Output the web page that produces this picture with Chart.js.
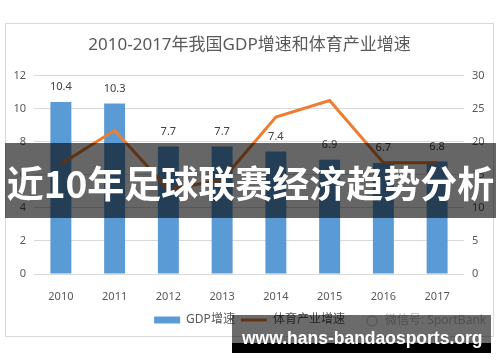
<!DOCTYPE html>
<html lang="zh">
<head>
<meta charset="utf-8">
<title>2010-2017年我国GDP增速和体育产业增速</title>
<script src="https://cdn.jsdelivr.net/npm/chart.js@4.4.0/dist/chart.umd.min.js"></script>
<style>
    html, body { margin: 0; padding: 0; background: #fff; }
    .wrap { position: relative; width: 500px; height: 362px; overflow: hidden; }
    #growthChart { position: absolute; left: 0; top: 0; }
    .banner {
        position: absolute; left: 5px; top: 143px; width: 491px; height: 75px;
        background: rgba(0, 0, 0, 0.6); color: #fff;
        font: 700 37px "Noto Sans CJK SC", sans-serif; line-height: 78px;
        text-align: center; white-space: nowrap; overflow: hidden;
    }
    .mark {
        position: absolute; left: 232px; top: 315px; width: 259px; height: 38px;
        background: linear-gradient(to bottom, rgba(0,0,0,0.58) 0, rgba(0,0,0,0.58) 28px, #000 28px);
    }
    .mark span {
        position: absolute; left: 10px; top: 13px; color: #fff;
        font: 700 17.5px "Liberation Sans", sans-serif; line-height: 20px; white-space: nowrap;
    }
</style>
</head>
<body>
<div class="wrap">
    <canvas id="growthChart" width="500" height="362"></canvas>
    <div class="banner">近10年足球联赛经济趋势分析</div>
    <div class="mark"><span>www.hans-bandaosports.org</span></div>
</div>
<script>
// Datos
const years = ['2010', '2011', '2012', '2013', '2014', '2015', '2016', '2017'];
const gdpGrowth = [10.4, 10.3, 7.7, 7.7, 7.4, 6.9, 6.7, 6.8];
const sportsGrowth = [16.6, 21.7, 12.8, 14.2, 23.7, 26.2, 16.8, 16.8];
const gdpTicks = [0, 2, 4, 6, 8, 10, 12];
const sportsTicks = [0, 5, 10, 15, 20, 25, 30];

const BLUE = '#5B9BD5';
const ORANGE = '#ED7D31';
const GREY_TEXT = '#595959';
const FONT = '"Noto Sans", "Noto Sans CJK SC", sans-serif';

// Fondo blanco y marco gris alrededor del gráfico
const framePlugin = {
    id: 'frame',
    beforeDraw(chart) {
        const ctx = chart.ctx;
        ctx.save();
        ctx.fillStyle = '#fff';
        ctx.fillRect(0, 0, chart.width, chart.height);
        ctx.strokeStyle = '#D9D9D9';
        ctx.lineWidth = 1;
        ctx.strokeRect(5.5, 23.5, 488, 313);
        ctx.restore();
    }
};

// Etiquetas de valor encima de cada barra
const barLabelsPlugin = {
    id: 'barLabels',
    afterDatasetsDraw(chart) {
        const ctx = chart.ctx;
        const meta = chart.getDatasetMeta(0);
        ctx.save();
        ctx.font = '11px ' + FONT;
        ctx.fillStyle = '#404040';
        ctx.textAlign = 'center';
        ctx.textBaseline = 'middle';
        meta.data.forEach((bar, i) => {
            ctx.fillText(gdpGrowth[i].toFixed(1), bar.x, bar.y - 15);
        });
        ctx.restore();
    }
};

// Texto extra de la leyenda original
const footnotePlugin = {
    id: 'footnote',
    afterDraw(chart) {
        const ctx = chart.ctx;
        const y = chart.legend.legendHitBoxes[0].top + 7;
        ctx.save();
        ctx.strokeStyle = '#BFBFBF';
        ctx.lineWidth = 1;
        ctx.beginPath();
        ctx.arc(372, y, 5, 0, Math.PI * 2);
        ctx.stroke();
        ctx.font = '12px ' + FONT;
        ctx.fillStyle = '#BFBFBF';
        ctx.textBaseline = 'middle';
        ctx.fillText('微信号: SportBank', 385, y);
        ctx.restore();
    }
};

new Chart(document.getElementById('growthChart'), {
    data: {
        labels: years,
        datasets: [
            {
                type: 'bar',
                label: 'GDP增速',
                data: gdpGrowth,
                backgroundColor: BLUE,
                yAxisID: 'y',
                barPercentage: 0.39,
                categoryPercentage: 1,
                order: 2
            },
            {
                type: 'line',
                label: '体育产业增速',
                data: sportsGrowth,
                borderColor: ORANGE,
                borderWidth: 3,
                pointRadius: 0,
                tension: 0,
                yAxisID: 'y1',
                order: 1
            }
        ]
    },
    options: {
        responsive: false,
        animation: false,
        layout: { padding: { top: 24, left: 5, right: 6, bottom: 26 } },
        plugins: {
            title: {
                display: true,
                text: '2010-2017年我国GDP增速和体育产业增速',
                color: GREY_TEXT,
                font: { family: FONT, size: 17, weight: 'normal' },
                padding: { top: 11, bottom: 20 }
            },
            legend: {
                position: 'bottom',
                labels: {
                    usePointStyle: true,
                    pointStyleWidth: 26,
                    boxHeight: 7,
                    padding: 6,
                    color: GREY_TEXT,
                    font: { family: FONT, size: 12 },
                    generateLabels: () => [
                        { text: 'GDP增速', fillStyle: BLUE, strokeStyle: BLUE, lineWidth: 0, pointStyle: 'rect', datasetIndex: 0, fontColor: GREY_TEXT },
                        { text: '体育产业增速', fillStyle: ORANGE, strokeStyle: ORANGE, lineWidth: 3, pointStyle: 'line', datasetIndex: 1, fontColor: GREY_TEXT }
                    ]
                }
            },
            tooltip: { enabled: false }
        },
        scales: {
            x: {
                grid: { display: false },
                border: { display: false },
                ticks: { color: GREY_TEXT, padding: 8, font: { family: FONT, size: 11 } },
                afterFit: scale => { scale.height = 34; }
            },
            y: {
                position: 'left',
                min: 0,
                max: 12,
                grid: { color: '#D9D9D9', drawTicks: false },
                border: { display: false },
                ticks: { color: GREY_TEXT, padding: 8, font: { family: FONT, size: 11 } },
                afterBuildTicks: scale => { scale.ticks = gdpTicks.map(v => ({ value: v })); },
                afterFit: scale => { scale.width = 29; }
            },
            y1: {
                position: 'right',
                min: 0,
                max: 30,
                grid: { display: false, drawTicks: false },
                border: { display: false },
                ticks: { color: GREY_TEXT, padding: 8, font: { family: FONT, size: 11 } },
                afterBuildTicks: scale => { scale.ticks = sportsTicks.map(v => ({ value: v })); },
                afterFit: scale => { scale.width = 30; }
            }
        }
    },
    plugins: [framePlugin, barLabelsPlugin, footnotePlugin]
});
</script>
</body>
</html>
